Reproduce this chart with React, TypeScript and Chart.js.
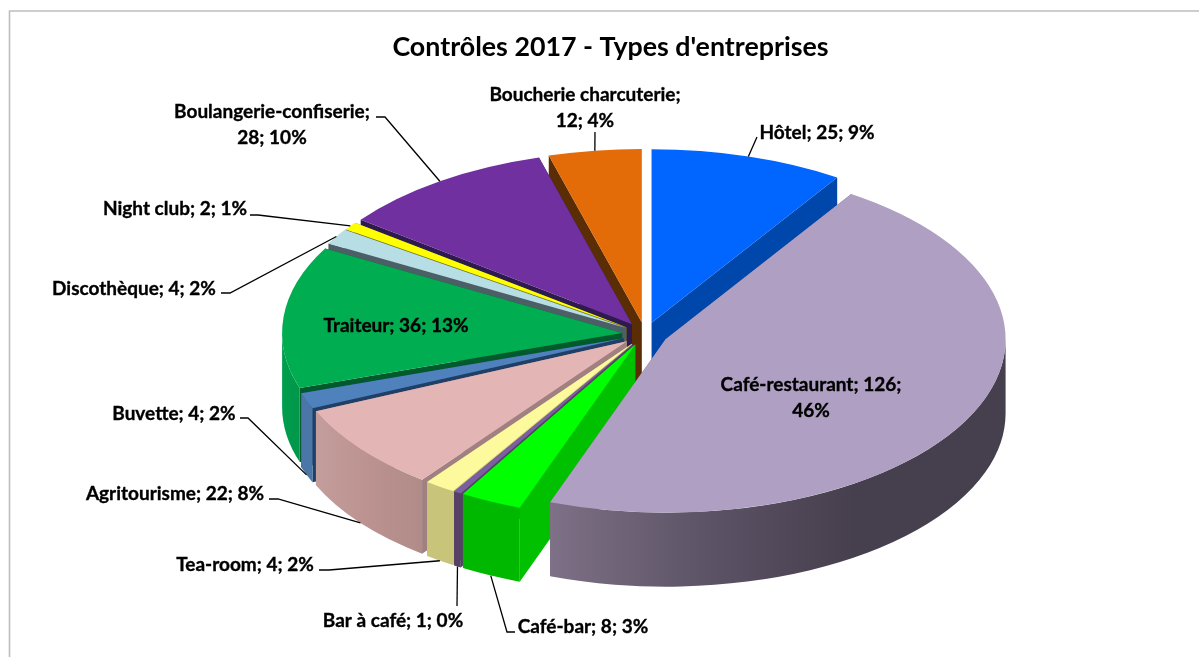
import React, { useEffect, useRef } from "react";
import { Chart, registerables } from "chart.js";

Chart.register(...registerables);

const titleText = "Contrôles 2017 - Types d'entreprises";
const categories = ["Hôtel", "Café-restaurant", "Café-bar", "Bar à café", "Tea-room", "Agritourisme", "Buvette", "Traiteur", "Discothèque", "Night club", "Boulangerie-confiserie", "Boucherie charcuterie"];
const seriesValues = [25, 126, 8, 1, 4, 22, 4, 36, 4, 2, 28, 12];
const percentLabels = [9, 46, 3, 0, 2, 8, 2, 13, 2, 1, 10, 4];

const topColors = ["#0066ff", "#af9fc3", "#00ff00", "#7b5fa0", "#fdfa9e", "#e3b5b4", "#4f81bd", "#00ad50", "#b7dde5", "#ffff00", "#7030a0", "#e36c09"];
const cutColors = ["#0047ab", "#7e7086", "#00c000", "#574065", "#c8c47a", "#a08080", "#1f3f66", "#005a2c", "#4d5f66", "#77771a", "#2d1a4f", "#5a2d05"];
const wallStops = [
  ["#0047ab"], ["#7e7086", "#5d5467", "#463f4d", "#463f4d"], ["#00b800"], ["#574065"], ["#c8c47a"],
  ["#c49e9c", "#bb9290", "#b08c88"], ["#4a76a8"], ["#009e4e", "#00964a"], ["#4d5f66"], ["#77771a"], ["#2d1a4f"], ["#5a2d05"],
];
// Back-to-front painting order of the slices (indices into categories).
const paintOrder = [0, 11, 10, 9, 8, 7, 6, 5, 4, 3, 2, 1];

// 3D projection of the pie.
const PIE_CENTER = { x: 645, y: 334 };
const PIE_RADIUS = 340;
const TILT = 0.51;
const DEPTH = 74;
const EXPLODE = 23;
const LABEL_FONT = "bold 19px Lato";

// Label placement: text centre, text lines, leader elbow points on the label side.
const labelLayout: { x: number; y: number; lines: (s: string) => string[]; leader?: number[][] }[] = [
  { x: 817, y: 133, lines: (s) => [s], leader: [[757, 137]] },
  { x: 811, y: 385, lines: (s) => ["Café-restaurant; 126;", "46%"] },
  { x: 583, y: 627, lines: (s) => [s], leader: [[515, 632], [507, 632]] },
  { x: 393, y: 621, lines: (s) => [s], leader: [[457, 606]] },
  { x: 245, y: 565, lines: (s) => [s], leader: [[319, 570], [329, 570]] },
  { x: 175, y: 494, lines: (s) => [s], leader: [[269, 499], [278, 499]] },
  { x: 174, y: 414, lines: (s) => [s], leader: [[240, 418], [248, 418]] },
  { x: 396, y: 326, lines: (s) => [s] },
  { x: 134, y: 289, lines: (s) => [s], leader: [[221, 293], [230, 293]] },
  { x: 175, y: 209, lines: (s) => [s], leader: [[250, 215], [258, 215]] },
  { x: 272, y: 112, lines: () => ["Boulangerie-confiserie;", "28; 10%"], leader: [[376, 117], [385, 117]] },
  { x: 585, y: 95, lines: () => ["Boucherie charcuterie;", "12; 4%"], leader: [[595, 132]] },
];

const pie3d = {
  id: "pie3d",
  beforeDraw(chart: any) {
    const { ctx, width, height } = chart;
    ctx.save();
    ctx.strokeStyle = "#bdbdbd";
    ctx.lineWidth = 1.6;
    ctx.beginPath();
    ctx.moveTo(9.5, height);
    ctx.lineTo(9.5, 11);
    ctx.lineTo(width, 11);
    ctx.stroke();
    ctx.restore();
  },
  beforeDatasetsDraw(chart: any) {
    const { ctx } = chart;
    const arcs = chart.getDatasetMeta(0).data;
    const apexOf = (el: any) => {
      const mid = (el.startAngle + el.endAngle) / 2;
      return { x: PIE_CENTER.x + Math.cos(mid) * EXPLODE, y: PIE_CENTER.y + Math.sin(mid) * EXPLODE * TILT, mid };
    };
    const rimPoint = (a: { x: number; y: number }, r: number, ang: number) => ({
      x: a.x + Math.cos(ang) * r,
      y: a.y + Math.sin(ang) * r * TILT,
    });

    for (const i of paintOrder) {
      const el = arcs[i];
      const r = el.outerRadius;
      const apex = apexOf(el);
      // radial cut faces
      ctx.fillStyle = cutColors[i];
      for (const ang of [el.startAngle, el.endAngle]) {
        const p = rimPoint(apex, r, ang);
        ctx.beginPath();
        ctx.moveTo(apex.x, apex.y);
        ctx.lineTo(p.x, p.y);
        ctx.lineTo(p.x, p.y + DEPTH);
        ctx.lineTo(apex.x, apex.y + DEPTH);
        ctx.closePath();
        ctx.fill();
      }
      // outer rim wall, front half only
      const s = Math.max(el.startAngle, 0);
      const e = Math.min(el.endAngle, Math.PI);
      if (e > s) {
        const pa = rimPoint(apex, r, s);
        const pb = rimPoint(apex, r, e);
        const left = Math.min(pa.x, pb.x);
        const right = Math.max(pa.x, pb.x);
        const stops = wallStops[i];
        if (stops.length > 1) {
          const g = ctx.createLinearGradient(left, 0, right, 0);
          stops.forEach((c: string, k: number) => g.addColorStop(k / (stops.length - 1), c));
          ctx.fillStyle = g;
        } else {
          ctx.fillStyle = stops[0];
        }
        ctx.beginPath();
        ctx.ellipse(apex.x, apex.y, r, r * TILT, 0, s, e);
        ctx.ellipse(apex.x, apex.y + DEPTH, r, r * TILT, 0, e, s, true);
        ctx.closePath();
        ctx.fill();
      }
      // top face, drawn by the library's arc element inside the projection
      ctx.save();
      ctx.translate(apex.x, apex.y);
      ctx.scale(1, TILT);
      ctx.translate(-el.x, -el.y);
      el.draw(ctx);
      ctx.restore();
    }

    // Leaders and labels
    ctx.save();
    ctx.font = LABEL_FONT;
    ctx.fillStyle = "#000";
    ctx.textAlign = "center";
    ctx.textBaseline = "middle";
    ctx.strokeStyle = "#000";
    categories.forEach((name, i) => {
      const el = arcs[i];
      const layout = labelLayout[i];
      if (layout.leader) {
        const apex = apexOf(el);
        const anchor = rimPoint(apex, el.outerRadius, apex.mid);
        const onFront = Math.sin(apex.mid) > 0;
        ctx.lineWidth = 1.3;
        ctx.beginPath();
        layout.leader.forEach((p, k) => (k ? ctx.lineTo(p[0], p[1]) : ctx.moveTo(p[0], p[1])));
        ctx.lineTo(anchor.x, anchor.y + (onFront ? DEPTH : 0));
        ctx.stroke();
      }
      const text = `${name}; ${seriesValues[i]}; ${percentLabels[i]}%`;
      ctx.lineWidth = 0.35;
      layout.lines(text).forEach((line, k) => {
        ctx.fillText(line, layout.x, layout.y + k * 26);
        ctx.strokeText(line, layout.x, layout.y + k * 26);
      });
    });
    ctx.restore();
    return false;
  },
};

export default function App() {
  const ref = useRef<HTMLCanvasElement>(null);
  useEffect(() => {
    document.body.style.margin = "0";
    document.body.style.background = "#fff";
    const chart = new Chart(ref.current as HTMLCanvasElement, {
      type: "pie",
      data: {
        labels: categories,
        datasets: [{ data: seriesValues, backgroundColor: topColors, borderWidth: 0, radius: PIE_RADIUS } as any],
      },
      options: {
        responsive: false,
        animation: false,
        layout: { padding: { left: 22 } },
        plugins: {
          legend: { display: false },
          tooltip: { enabled: false },
          title: {
            display: true,
            text: titleText,
            color: "#000",
            font: { family: "Lato", size: 26.8, weight: "bold" },
            padding: { top: 31, bottom: 10 },
          },
        },
      },
      plugins: [pie3d],
    } as any);
    return () => chart.destroy();
  }, []);
  return <canvas ref={ref} width={1199} height={657} style={{ display: "block" }} />;
}
